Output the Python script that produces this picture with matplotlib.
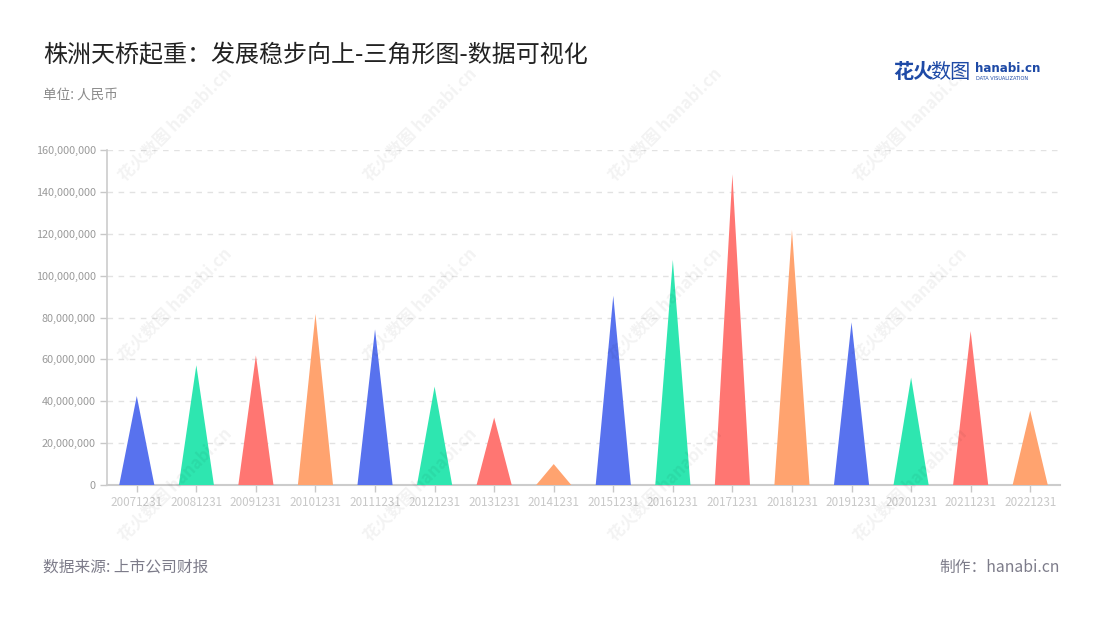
import matplotlib
matplotlib.use("Agg")
import matplotlib.pyplot as plt
from matplotlib.ticker import FuncFormatter

plt.rcParams['font.family'] = ['Noto Sans CJK SC', 'DejaVu Sans']

# report dates and values (RMB)
dates = ["20071231", "20081231", "20091231", "20101231", "20111231", "20121231",
         "20131231", "20141231", "20151231", "20161231", "20171231", "20181231",
         "20191231", "20201231", "20211231", "20221231"]
values = [42.5e6, 57.2e6, 61.9e6, 81.7e6, 74.3e6, 47.0e6, 32.2e6, 10.0e6,
          90.4e6, 107.5e6, 148.4e6, 121.8e6, 77.7e6, 51.3e6, 73.5e6, 35.5e6]
palette = ["#5872ee", "#2ee6b0", "#ff7672", "#ffa36f"]
y_ticks = [0, 20e6, 40e6, 60e6, 80e6, 100e6, 120e6, 140e6, 160e6]

fig = plt.figure(figsize=(11, 6.2), dpi=100)
ax = fig.add_axes([107 / 1100, 1 - 485 / 620, (1060 - 107) / 1100, (485 - 150) / 620])

# triangles, one per category
half = 0.295
for i, v in enumerate(values):
    ax.fill([i - half, i, i + half], [0, v, 0], color=palette[i % 4], lw=0, zorder=3)

ax.set_xlim(-0.5, len(dates) - 0.5)
ax.set_ylim(0, 160e6)
ax.set_xticks(range(len(dates)))
ax.set_xticklabels(dates, fontsize=8.4, color="#b0b5c5")
ax.set_yticks(y_ticks)
ax.yaxis.set_major_formatter(FuncFormatter(lambda v, p: f"{int(v):,}"))
ax.tick_params(axis="y", labelsize=7.8, colors="#c8c8c8", labelcolor="#9a9a9a",
               length=5, width=1, pad=3)
ax.tick_params(axis="x", colors="#c8c8c8", length=5, width=1, pad=3)

ax.grid(axis="y", color="#e2e2e2", linestyle=(0, (4, 4)), linewidth=1, zorder=0)
for s in ["top", "right"]:
    ax.spines[s].set_visible(False)
ax.spines["left"].set_color("#cccccc")
ax.spines["bottom"].set_color("#cccccc")
ax.spines["left"].set_linewidth(1.2)
ax.spines["bottom"].set_linewidth(1.5)

# titles and notes
fig.text(43 / 1100, 1 - 55 / 620, "株洲天桥起重：发展稳步向上-三角形图-数据可视化",
         fontsize=17.3, color="#222222", va="center", ha="left", fontweight="medium")
fig.text(43 / 1100, 1 - 95 / 620, "单位: 人民币", fontsize=9.8, color="#8a8a8a",
         va="center", ha="left")
fig.text(43 / 1100, 1 - 567 / 620, "数据来源: 上市公司财报", fontsize=11.3, color="#7d7c8a",
         va="center", ha="left")
fig.text(1060 / 1100, 1 - 567 / 620, "制作：hanabi.cn", fontsize=11.3, color="#7d7c8a",
         va="center", ha="right")

# logo
fig.text(893 / 1100, 1 - 72 / 620, "花火", fontsize=14.5, color="#1e4aa6",
         fontweight="bold", va="center", ha="left")
fig.text(930 / 1100, 1 - 72 / 620, "数图", fontsize=14.5, color="#1e4aa6",
         va="center", ha="left")
fig.text(975 / 1100, 1 - 68 / 620, "hanabi.cn", fontsize=8.6, color="#1e4aa6",
         fontweight="bold", va="center", ha="left", family="DejaVu Sans")
fig.text(976 / 1100, 1 - 79 / 620, "DATA VISUALIZATION", fontsize=3.6, color="#1e4aa6",
         va="center", ha="left", family="DejaVu Sans")

# watermark grid
for cx in [175, 420, 665, 910]:
    for cy in [125, 305, 485]:
        fig.text(cx / 1100, 1 - cy / 620, "花火数图 hanabi.cn", fontsize=12,
                 color="#000000", alpha=0.05, rotation=45, fontweight="bold",
                 ha="center", va="center", rotation_mode="anchor", zorder=10)

fig.savefig("out.png", dpi=100)
